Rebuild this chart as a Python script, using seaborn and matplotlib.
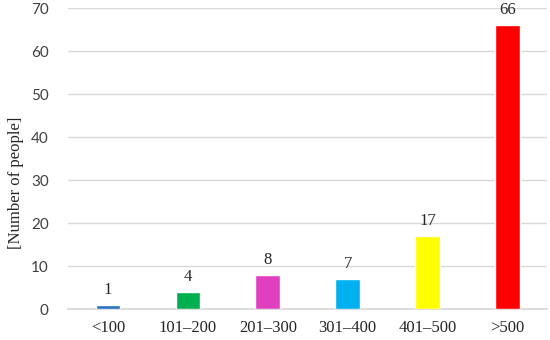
import matplotlib
matplotlib.use('Agg')
import matplotlib.pyplot as plt
import pandas as pd
import seaborn as sns

# Data
categories = ['<100', '101–200', '201–300', '301–400', '401–500', '>500']
people = [1, 4, 8, 7, 17, 66]
colors = ['#2672C4', '#00B050', '#E040C0', '#00B0F0', '#FFFF00', '#FF0000']

df = pd.DataFrame({'range': categories, 'people': people})

sns.set_theme(style='white')
plt.rcParams['font.family'] = ['Liberation Serif', 'DejaVu Serif']

fig = plt.figure(figsize=(5.5, 3.4), dpi=100)
ax = fig.add_axes([0.124, 0.091, 0.871, 0.885])

sns.barplot(data=df, x='range', y='people', hue='range', palette=colors,
            legend=False, width=0.31, saturation=1, ax=ax, zorder=3)

ax.set_ylim(0, 70)
ax.set_yticks(range(0, 71, 10))
ax.yaxis.grid(True, color='#D9D9D9', linewidth=1, zorder=0)
ax.set_axisbelow(True)
for s in ['top', 'right', 'left']:
    ax.spines[s].set_visible(False)
ax.spines['bottom'].set_color('#D9D9D9')
ax.tick_params(axis='both', length=0)
ax.tick_params(axis='x', labelsize=12, pad=8)
for lbl in ax.get_yticklabels():
    lbl.set_fontfamily(['Lato', 'DejaVu Sans'])
    lbl.set_fontsize(11)
    lbl.set_color('#404040')
ax.tick_params(axis='y', pad=14)

ax.set_xlabel('')
ax.set_ylabel('[Number of people]', fontsize=12)
ax.yaxis.set_label_coords(-0.092, 0.42)

# value labels
for cont in ax.containers:
    ax.bar_label(cont, padding=5, fontsize=12)

fig.savefig('out.png', dpi=100)
